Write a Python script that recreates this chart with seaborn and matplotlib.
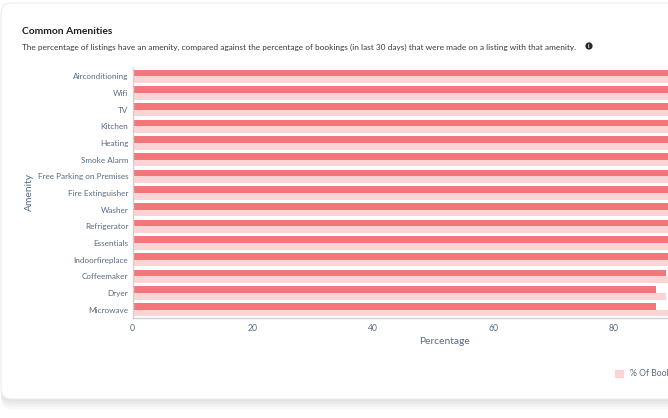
import numpy as np
import pandas as pd
import matplotlib
import matplotlib.pyplot as plt
import matplotlib.patches as mpatches
from matplotlib.transforms import IdentityTransform
import seaborn as sns

# Dados das comodidades (valores acima de ~89 ficam cortados na imagem)
AMENITIES = [
    "Airconditioning", "Wifi", "TV", "Kitchen", "Heating", "Smoke Alarm",
    "Free Parking on Premises", "Fire Extinguisher", "Washer", "Refrigerator",
    "Essentials", "Indoorfireplace", "Coffeemaker", "Dryer", "Microwave",
]
PCT_LISTINGS = [99.0, 98.5, 98.0, 97.5, 97.0, 96.5, 96.0, 95.5, 95.0, 94.5,
                94.0, 93.0, 88.7, 87.0, 87.0]
PCT_BOOKINGS = [99.5, 99.0, 98.5, 98.0, 97.5, 97.0, 96.5, 96.0, 95.5, 95.0,
                94.5, 94.0, 93.5, 88.7, 92.0]
X_TICKS = [0, 20, 40, 60, 80]

DARK = "#f3767b"
LIGHT = "#fcd4d6"
TEXT = "#5b6b80"
AXIS = "#d0d0d0"

W, H = 668, 418

sns.set_style("white")
plt.rcParams["font.family"] = ["Lato", "DejaVu Sans"]

df = pd.DataFrame({
    "Amenity": AMENITIES * 2,
    "Percentage": PCT_LISTINGS + PCT_BOOKINGS,
    "Series": ["% Of Listings"] * len(AMENITIES) + ["% Of Bookings"] * len(AMENITIES),
})

fig = plt.figure(figsize=(W / 100, H / 100), dpi=100)
fig.patch.set_facecolor("white")

# Cartão branco com sombra (atrás dos eixos)
for i, a in enumerate([0.05, 0.05, 0.06, 0.07, 0.08]):
    off = 10 - 2 * i
    shadow = mpatches.FancyBboxPatch(
        (1, H - 399 - off), W + 40, 396, boxstyle="round,pad=0,rounding_size=10",
        transform=IdentityTransform(), facecolor="#9a9a9a", edgecolor="none",
        alpha=a, zorder=-3)
    fig.patches.append(shadow)
card = mpatches.FancyBboxPatch(
    (1, H - 399), W + 40, 396, boxstyle="round,pad=0,rounding_size=10",
    transform=IdentityTransform(), facecolor="white", edgecolor="#ececec",
    linewidth=0.8, zorder=-2)
fig.patches.append(card)

px_per_unit = 6.02
xmax = 104
ax = fig.add_axes([132.5 / W, 1 - 318 / H, xmax * px_per_unit / W, 250 / H])
ax.set_facecolor("none")

sns.barplot(
    data=df, y="Amenity", x="Percentage", hue="Series",
    hue_order=["% Of Listings", "% Of Bookings"],
    palette=[DARK, LIGHT], order=AMENITIES, width=0.8, gap=0,
    orient="h", ax=ax, legend=False, errorbar=None, saturation=1,
    linewidth=0, edgecolor="none",
)

ax.set_xlim(0, xmax)
ax.set_ylim(len(AMENITIES) - 0.5, -0.5)
ax.set_xticks(X_TICKS)
ax.tick_params(axis="both", length=0, labelsize=6.2, labelcolor=TEXT, pad=4)
ax.tick_params(axis="y", labelsize=5.85, pad=3)
for side in ["top", "right"]:
    ax.spines[side].set_visible(False)
for side in ["left", "bottom"]:
    ax.spines[side].set_color(AXIS)
    ax.spines[side].set_linewidth(1)

ax.set_xlabel("")
ax.set_ylabel("")
fig.text(445 / W, 1 - 342 / H, "Percentage", ha="center", va="center",
         fontsize=7.4, color=TEXT)
fig.text(29 / W, 1 - 192 / H, "Amenity", ha="center", va="center",
         rotation=90, fontsize=7.4, color=TEXT)

fig.text(22 / W, 1 - 31 / H, "Common Amenities", ha="left", va="center",
         fontsize=7.4, fontweight="bold", color="#1f1f1f")
fig.text(22 / W, 1 - 47 / H,
         "The percentage of listings have an amenity, compared against the percentage "
         "of bookings (in last 30 days) that were made on a listing with that amenity.",
         ha="left", va="center", fontsize=5.95, color="#3a3a3a")
info = mpatches.Circle((589, H - 46), 3.6, transform=IdentityTransform(),
                       facecolor="#222831", edgecolor="none", zorder=3)
fig.patches.append(info)
fig.text(589 / W, 1 - 46.3 / H, "i", ha="center", va="center", fontsize=4.5,
         fontweight="bold", color="white")

handles = [mpatches.Patch(color=LIGHT, label="% Of Bookings"),
           mpatches.Patch(color=DARK, label="% Of Listings")]
fig.legend(handles=handles, loc="center left", bbox_to_anchor=(607 / W, 1 - 374 / H),
           ncol=2, frameon=False, fontsize=6.2, labelcolor=TEXT,
           handlelength=0.9, handleheight=0.9, handletextpad=0.9, columnspacing=2)

fig.savefig("out.png", dpi=100)
